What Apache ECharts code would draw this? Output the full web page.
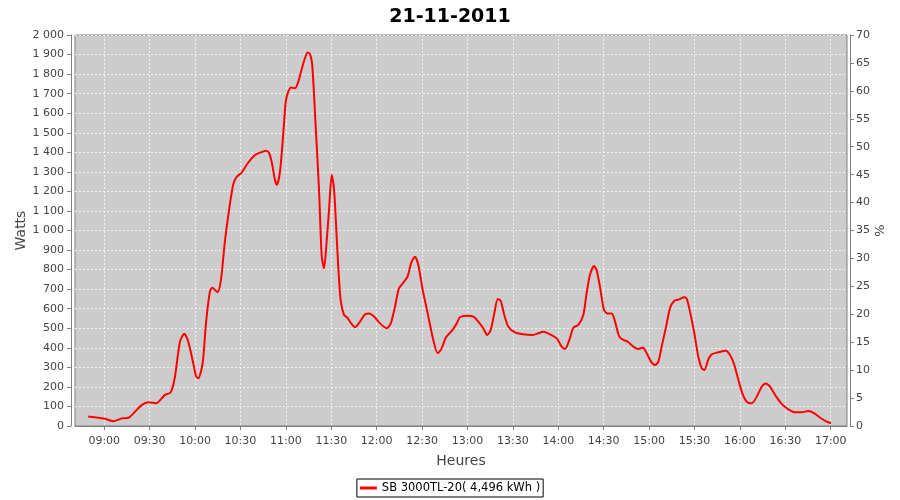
<!DOCTYPE html>
<html><head><meta charset="utf-8">
<script src="https://cdn.jsdelivr.net/npm/echarts@6/dist/echarts.min.js"></script>
<style>html,body{margin:0;padding:0;background:#fff}#c{width:900px;height:500px}</style>
</head><body><div id="c"></div>
<script>
const times = ["08:49:24","08:57:12","09:00:30","09:06:00","09:11:30","09:15:54","09:20:18","09:24:42","09:29:06","09:34:12",
"09:40:06","09:43:54","09:46:42","09:50:00","09:52:54","09:55:30","09:58:48","10:00:36","10:02:06","10:05:00",
"10:07:12","10:09:48","10:11:24","10:14:54","10:17:06","10:19:48","10:23:06","10:25:18","10:27:30","10:30:48",
"10:34:48","10:39:36","10:42:54","10:46:54","10:48:48","10:50:36","10:52:48","10:54:06","10:56:06","10:58:18",
"10:59:54","11:01:36","11:03:24","11:06:00","11:08:12","11:10:24","11:12:36","11:14:24","11:15:54","11:17:24",
"11:19:42","11:21:54","11:23:42","11:25:12","11:27:00","11:28:30","11:30:18","11:31:48","11:33:06","11:34:36",
"11:36:12","11:38:24","11:40:36","11:42:48","11:45:42","11:49:00","11:52:18","11:55:06","11:58:24","12:02:12",
"12:06:36","12:09:18","12:12:06","12:14:42","12:17:36","12:20:30","12:22:42","12:25:18","12:27:30","12:30:24",
"12:33:42","12:37:24","12:40:18","12:42:54","12:45:48","12:49:36","12:52:54","12:55:00","12:59:30","13:03:54",
"13:07:06","13:10:24","13:13:06","13:15:18","13:17:42","13:20:00","13:22:00","13:24:18","13:27:00","13:31:24",
"13:36:54","13:42:24","13:46:48","13:50:06","13:54:30","13:59:00","14:02:12","14:04:24","14:07:18","14:09:54",
"14:13:12","14:16:30","14:18:42","14:20:54","14:23:36","14:25:18","14:27:30","14:30:12","14:32:24","14:35:18",
"14:37:30","14:40:18","14:43:00","14:45:54","14:49:36","14:52:54","14:55:48","14:58:24","15:01:18","15:03:54",
"15:06:06","15:08:18","15:11:12","15:13:48","15:16:30","15:19:48","15:23:06","15:24:54","15:27:00","15:29:42",
"15:32:30","15:34:48","15:36:30","15:39:06","15:41:24","15:45:42","15:50:36","15:53:30","15:56:18","15:59:00",
"16:01:36","16:04:30","16:07:48","16:11:06","16:14:24","16:17:00","16:19:54","16:23:12","16:27:36","16:32:00",
"16:36:24","16:40:48","16:45:12","16:49:12","16:53:00","16:57:24","17:00:12"];
const watts = [48,41,37,24,39,42,73,107,121,116,
159,172,252,431,472,431,321,256,244,321,
525,687,707,684,747,951,1139,1238,1275,1296,
1344,1386,1398,1408,1398,1352,1258,1233,1301,1497,
1659,1710,1732,1727,1761,1824,1881,1910,1903,1847,
1531,1207,866,807,951,1105,1284,1215,1037,815,
644,568,554,528,505,534,571,576,559,525,
500,525,610,704,733,767,832,866,824,696,
576,440,372,397,454,486,525,556,564,559,
534,500,465,491,576,650,639,568,508,479,
469,465,474,482,469,448,406,394,440,503,
517,568,679,772,818,798,713,593,576,576,
534,457,440,431,406,394,401,372,329,312,
329,406,508,602,639,648,658,650,585,482,
354,295,286,340,367,377,385,363,312,235,
167,124,116,150,201,218,201,159,113,85,
70,70,77,65,42,22,14];
const xTickLabels = ["09:00","09:30","10:00","10:30","11:00","11:30","12:00","12:30","13:00","13:30",
"14:00","14:30","15:00","15:30","16:00","16:30","17:00"];
const xRange = ["08:40:40","17:10:45"];
const seriesName = "SB 3000TL-20( 4,496 kWh )";
const titleText = "21-11-2011";

function toMin(s){const p=s.split(':').map(Number);return p[0]*60+p[1]+(p[2]||0)/60;}
function fmtW(v){return v>=1000?Math.floor(v/1000)+' '+String(v%1000).padStart(3,'0'):String(v);}
const tickMins = xTickLabels.map(toMin);
const data = times.map((t,i)=>[toMin(t),watts[i]]);
const font = 'DejaVu Sans';
const axisGray = '#808080';
const chart = echarts.init(document.getElementById('c'));
chart.setOption({
  animation:false,
  backgroundColor:'#ffffff',
  title:{text:titleText,left:'center',top:3,textStyle:{fontFamily:font,fontSize:19,fontWeight:'bold',color:'#000'}},
  grid:{left:75,right:53,top:35,bottom:74,show:true,backgroundColor:'#cccccc',borderColor:axisGray,borderWidth:1},
  legend:{bottom:3,left:'center',data:[seriesName],borderColor:'#000',borderWidth:1,borderRadius:0,padding:[3,3,3,3],
    itemWidth:17,itemHeight:3,icon:'rect',itemGap:4,textStyle:{fontFamily:font,fontSize:11.5,color:'#000'}},
  xAxis:{type:'value',min:toMin(xRange[0]),max:toMin(xRange[1]),offset:4,
    name:'Heures',nameLocation:'middle',nameGap:24,nameMoveOverlap:false,nameTextStyle:{fontFamily:font,fontSize:14,color:'#444'},
    axisLine:{show:true,lineStyle:{color:axisGray}},
    axisTick:{show:true,length:4,customValues:tickMins,lineStyle:{color:axisGray}},
    axisLabel:{customValues:tickMins,margin:6,fontFamily:font,fontSize:11,color:'#444',
      formatter:(v)=>{const i=tickMins.findIndex(m=>Math.abs(m-v)<0.01);return i>=0?xTickLabels[i]:'';}},
    splitLine:{show:true,lineStyle:{color:'#f0f0f0',type:[2,2],width:1}}},
  yAxis:[
    {type:'value',min:0,max:2000,interval:100,offset:4,position:'left',
     name:'Watts',nameLocation:'middle',nameGap:43,nameMoveOverlap:false,nameTextStyle:{fontFamily:font,fontSize:14,color:'#444'},
     axisLine:{show:true,lineStyle:{color:axisGray}},
     axisTick:{show:true,length:4,lineStyle:{color:axisGray}},
     axisLabel:{margin:7,fontFamily:font,fontSize:11,color:'#444',formatter:fmtW},
     splitLine:{show:true,lineStyle:{color:'#f0f0f0',type:[2,2],width:1}}},
    {type:'value',min:0,max:70,interval:5,offset:3,position:'right',
     name:'%',nameLocation:'middle',nameGap:24,nameMoveOverlap:false,nameTextStyle:{fontFamily:font,fontSize:13,color:'#444'},
     axisLine:{show:true,lineStyle:{color:axisGray}},
     axisTick:{show:true,length:4,lineStyle:{color:axisGray}},
     axisLabel:{margin:6,fontFamily:font,fontSize:11,color:'#444'},
     splitLine:{show:false}}
  ],
  series:[{name:seriesName,type:'line',yAxisIndex:0,data:data,showSymbol:false,smooth:0.25,
    lineStyle:{color:'#ff0000',width:2},itemStyle:{color:'#ff0000'}}]
});
</script></body></html>
